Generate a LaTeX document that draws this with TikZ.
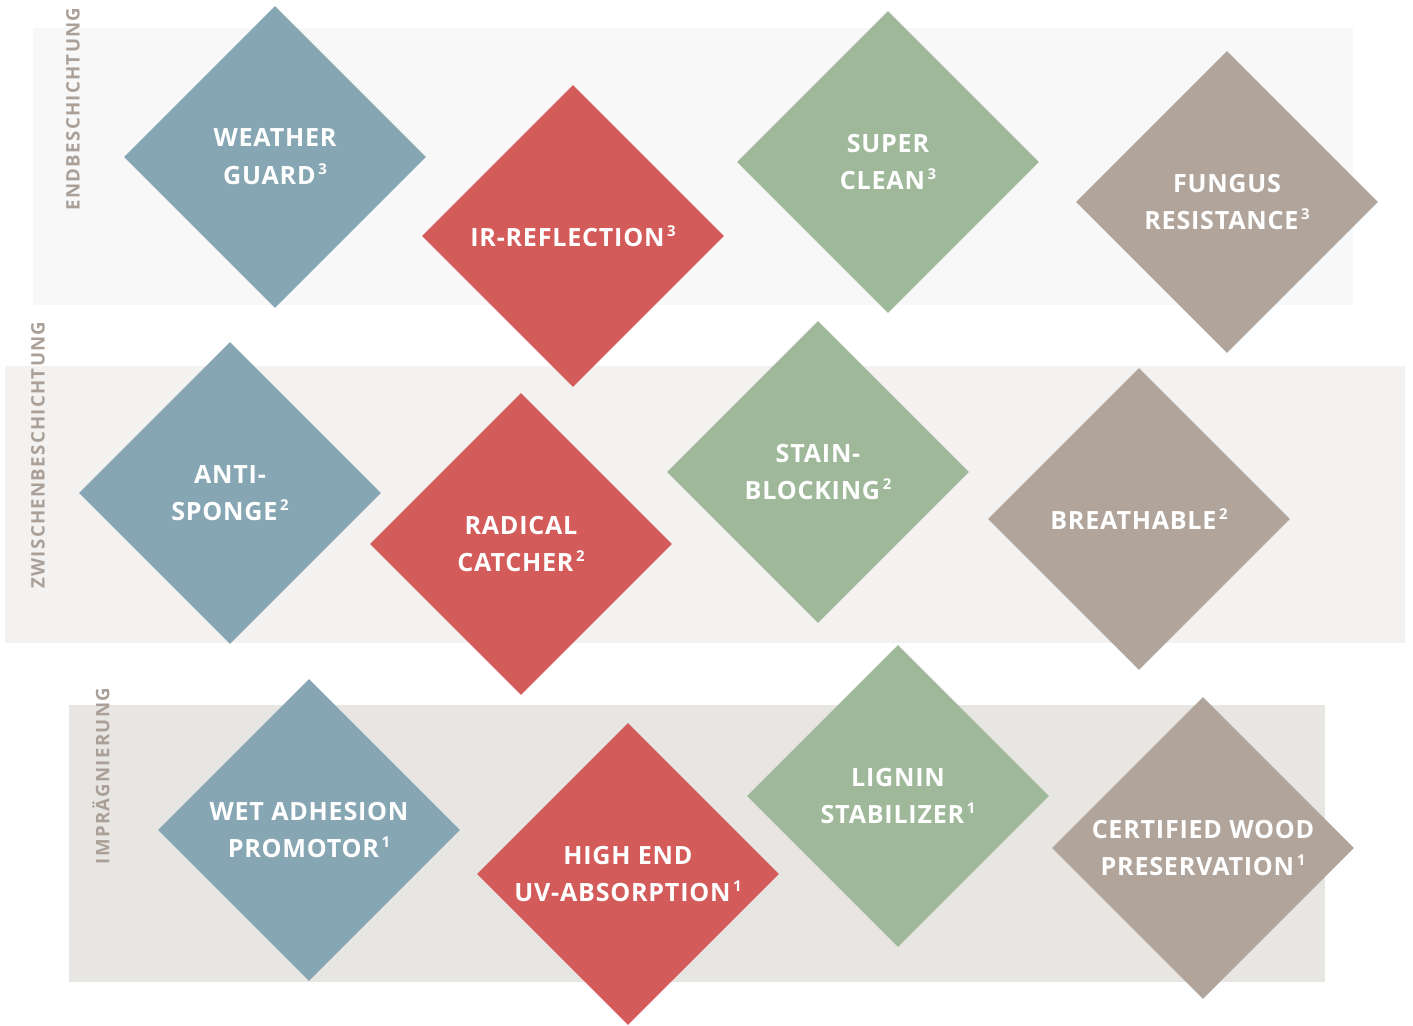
\documentclass[tikz,border=0pt]{standalone}
\usepackage{fontspec}
\setmainfont[LetterSpace=3]{Open Sans}
\usetikzlibrary{shapes.geometric}
\definecolor{bluegrey}{HTML}{86A6B3}
\definecolor{redish}{HTML}{D35B5A}
\definecolor{sage}{HTML}{9FB89A}
\definecolor{taupe}{HTML}{B0A49B}
\definecolor{bandA}{HTML}{F8F8F8}
\definecolor{bandB}{HTML}{F3F2F0}
\definecolor{bandC}{HTML}{E8E6E2}
\definecolor{sidetext}{HTML}{AAA098}
\newcommand{\fn}[1]{\kern1.5pt\raisebox{0.42em}{\fontsize{8.5}{8.5}\selectfont #1}}
\begin{document}
\begin{tikzpicture}[x=0.02cm, y=-0.02cm,
    dia/.style = {diamond, aspect=1, inner sep=0pt, minimum size=6.04cm, text=white, align=center,
        font=\fontsize{14.3}{21.5}\selectfont\bfseries},
    side/.style = {rotate=90, text=sidetext,
        font=\fontsize{10.6}{12}\selectfont\bfseries\addfontfeatures{LetterSpace=7}}
]
    \useasboundingbox (0,0) rectangle (1413,1025);

    % bands
    \fill[bandA] (33,28) rectangle (1353,305);
    \fill[bandB] (5,366) rectangle (1405,643);
    \fill[bandC] (69,705) rectangle (1325,982);

    \node[side] (endb) at (73,109) {ENDBESCHICHTUNG};
    \node[side] (zwis) at (38,455) {ZWISCHENBESCHICHTUNG};
    \node[side] (impr) at (101,776) {IMPRÄGNIERUNG};

    % top row
    \node[dia, fill=bluegrey] (weather) at (275,157) {WEATHER\\GUARD\fn{3}};
    \node[dia, fill=redish] (ir) at (573,236) {IR-REFLECTION\fn{3}};
    \node[dia, fill=sage] (clean) at (888,162) {SUPER\\CLEAN\fn{3}};
    \node[dia, fill=taupe] (fungus) at (1227,202) {FUNGUS\\RESISTANCE\fn{3}};

    % middle row
    \node[dia, fill=bluegrey] (sponge) at (230,493) {ANTI-\\SPONGE\fn{2}};
    \node[dia, fill=redish] (radical) at (521,544) {RADICAL\\CATCHER\fn{2}};
    \node[dia, fill=sage] (stain) at (818,472) {STAIN-\\BLOCKING\fn{2}};
    \node[dia, fill=taupe] (breath) at (1139,519) {BREATHABLE\fn{2}};

    % bottom row
    \node[dia, fill=bluegrey] (wet) at (309,830) {WET ADHESION\\PROMOTOR\fn{1}};
    \node[dia, fill=redish] (uv) at (628,874) {HIGH END\\UV-ABSORPTION\fn{1}};
    \node[dia, fill=sage] (lignin) at (898,796) {LIGNIN\\STABILIZER\fn{1}};
    \node[dia, fill=taupe] (wood) at (1203,848) {CERTIFIED WOOD\\PRESERVATION\fn{1}};
\end{tikzpicture}
\end{document}
